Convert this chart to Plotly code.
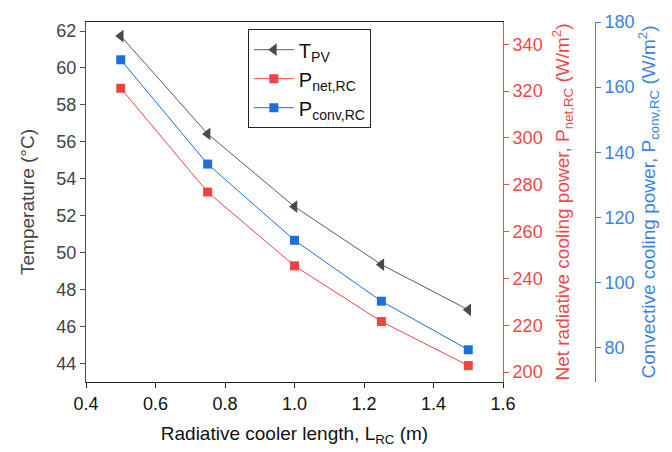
import plotly.graph_objects as go

length_m = [0.5, 0.75, 1.0, 1.25, 1.5]
t_pv = [61.73, 56.43, 52.49, 49.35, 46.9]
p_net_rc = [321.2, 276.9, 245.4, 221.6, 202.8]
p_conv_rc = [168.4, 136.4, 113.0, 94.3, 79.4]

FONT = "Liberation Sans, Arial, sans-serif"
GRAY = "#505050"
RED = "#f04444"
BLUE = "#1d6fe0"
RED_AX = "#f04848"
BLUE_AX = "#3a82e6"
TICK = 18
TITLE = 19

fig = go.Figure()
fig.add_trace(go.Scatter(x=length_m, y=t_pv, name="T<sub>PV</sub>", mode="lines+markers",
                         line=dict(color="#5a5a5a", width=1),
                         marker=dict(symbol="triangle-left", size=11, color="#4a4a4a"),
                         yaxis="y"))
fig.add_trace(go.Scatter(x=length_m, y=p_net_rc, name="P<sub>net,RC</sub>", mode="lines+markers",
                         line=dict(color=RED, width=1),
                         marker=dict(symbol="square", size=9, color=RED),
                         yaxis="y2"))
fig.add_trace(go.Scatter(x=length_m, y=p_conv_rc, name="P<sub>conv,RC</sub>", mode="lines+markers",
                         line=dict(color=BLUE, width=1),
                         marker=dict(symbol="square", size=9, color=BLUE),
                         yaxis="y3"))

fig.update_layout(
    width=672, height=452,
    margin=dict(l=86, r=77, t=14, b=70),
    paper_bgcolor="white", plot_bgcolor="white",
    font=dict(family=FONT, size=TICK, color="#222"),
    showlegend=True,
    legend=dict(x=0.318, y=0.98, xanchor="left", yanchor="top",
                bordercolor="#222", borderwidth=1, bgcolor="white",
                font=dict(size=20, color="#111"), tracegroupgap=0,
                itemwidth=40),
    xaxis=dict(domain=[0, 0.8193], range=[0.4, 1.6], tickvals=[0.4, 0.6, 0.8, 1.0, 1.2, 1.4, 1.6],
               ticktext=["0.4", "0.6", "0.8", "1.0", "1.2", "1.4", "1.6"],
               showline=True, linecolor="#222", linewidth=1, mirror=True,
               ticks="outside", ticklen=5, tickcolor="#222", showgrid=False, zeroline=False,
               tickfont=dict(size=TICK, color="#111"), automargin=False,
               title=dict(text="Radiative cooler length, L<sub>RC</sub> (m)", font=dict(size=TITLE, color="#111"), standoff=14)),
    yaxis=dict(range=[42.99, 62.49], tickvals=[44, 46, 48, 50, 52, 54, 56, 58, 60, 62],
               showline=True, linecolor=GRAY, linewidth=1, ticks="outside", ticklen=5,
               tickcolor=GRAY, showgrid=False, zeroline=False,
               tickfont=dict(size=TICK, color="#444"),
               title=dict(text="Temperature (°C)", font=dict(size=TITLE, color="#444"), standoff=16)),
    yaxis2=dict(range=[195.8, 349.5], tickvals=[200, 220, 240, 260, 280, 300, 320, 340],
                overlaying="y", side="right", anchor="x",
                showline=True, linecolor=RED_AX, linewidth=1, ticks="outside", ticklen=5,
                tickcolor=RED_AX, showgrid=False, zeroline=False,
                tickfont=dict(size=TICK, color=RED_AX),
                title=dict(text="Net radiative cooling power, P<sub>net,RC</sub> (W/m<sup>2</sup>)",
                           font=dict(size=TITLE, color=RED_AX), standoff=14)),
    yaxis3=dict(range=[69.5, 180], tickvals=[80, 100, 120, 140, 160, 180],
                overlaying="y", side="right", anchor="free", position=1.0,
                showline=True, linecolor=BLUE_AX, linewidth=1, ticks="outside", ticklen=5,
                tickcolor=BLUE_AX, showgrid=False, zeroline=False,
                tickfont=dict(size=TICK, color=BLUE_AX),
                title=dict(text="Convective cooling power, P<sub>conv,RC</sub> (W/m<sup>2</sup>)",
                           font=dict(size=TITLE, color=BLUE_AX), standoff=2)),
)

fig.write_html("out.html")
